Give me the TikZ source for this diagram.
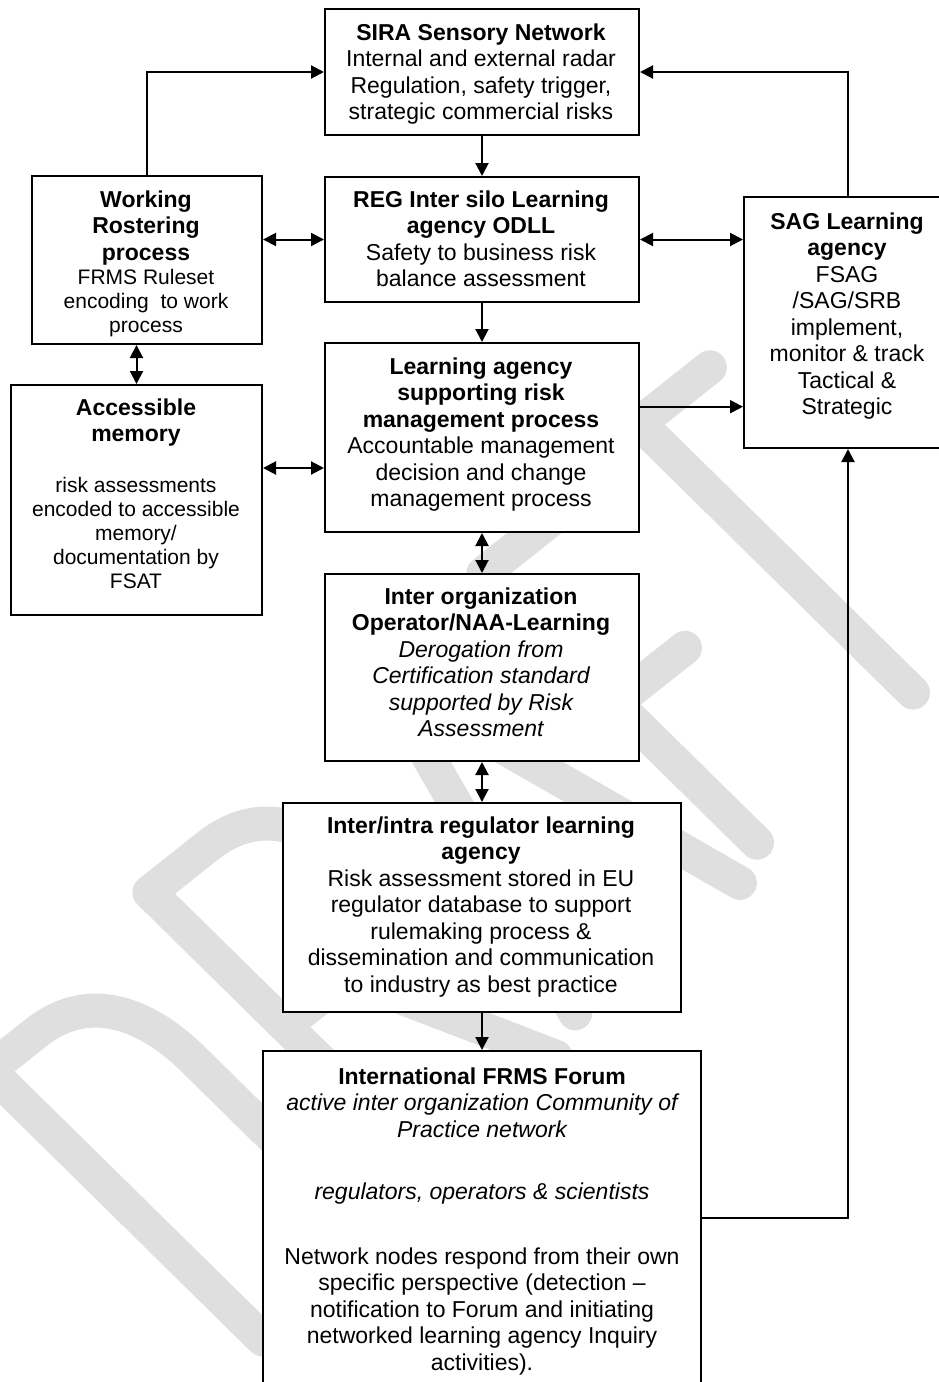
\documentclass[tikz,border=0pt]{standalone}
\usepackage{fontspec}
\setmainfont{Liberation Sans}
\usetikzlibrary{arrows.meta}
\definecolor{wmgray}{RGB}{223,223,223}
\newcommand\smallfnt{\fontsize{21}{24}\selectfont}
\begin{document}
\begin{tikzpicture}[x=1pt,y=-1pt,
  box/.style={draw=black, fill=white, line width=2pt, rectangle, inner sep=0pt, anchor=north west},
  txt/.style={anchor=north, inner sep=0pt, align=center, font=\fontsize{23}{26.5}\selectfont},
  arr/.style={line width=2pt, -{Triangle[length=13pt,width=13pt]}},
  darr/.style={line width=2pt, {Triangle[length=13pt,width=13pt]}-{Triangle[length=13pt,width=13pt]}},
  wm/.style={draw=wmgray, line width=34pt, line cap=round, line join=round}]
\useasboundingbox (0,0) rectangle (939,1382);
\clip (0,0) rectangle (939,1382);
% watermark DRAFT
\begin{scope}[shift={(-11,1070)}, x={(0.784pt,0.621pt)}, y={(0.7127pt,-0.7014pt)}]
  \draw[wm] (0,0) -- (60,0) .. controls (125,0) and (152,50) .. (152,120) -- (152,264) .. controls (152,334) and (125,384) .. (60,384) -- (0,384) -- cycle;
  \draw[wm] (241,344) -- (241,-40) -- (315,-40) .. controls (372,-40) and (400,-5) .. (400,52) .. controls (400,110) and (372,150) .. (315,150) -- (241,150);
  \draw[wm] (320,150) -- (410,344);
  \draw[wm] (455,322) -- (560,-62) -- (665,322);
  \draw[wm] (487,205) -- (633,205);
  \draw[wm] (816,-83) -- (706,-83) -- (706,301);
  \draw[wm] (706,102) -- (795,102);
  \draw[wm] (834,-104) -- (1014,-104);
  \draw[wm] (924,-104) -- (924,280);
\end{scope}
% boxes
\node[box, minimum width=314pt, minimum height=126pt] (sira) at (324,8) {};
\node[box, minimum width=314pt, minimum height=125pt] (reg) at (324,176) {};
\node[box, minimum width=230pt, minimum height=168pt] (work) at (31,175) {};
\node[box, minimum width=251pt, minimum height=230pt] (acc) at (10,384) {};
\node[box, minimum width=314pt, minimum height=189pt] (learn) at (324,342) {};
\node[box, minimum width=314pt, minimum height=187pt] (inter) at (324,573) {};
\node[box, minimum width=398pt, minimum height=209pt] (intra) at (282,802) {};
\node[box, minimum width=438pt, minimum height=350pt] (forum) at (262,1050) {};
\node[box, minimum width=208pt, minimum height=251pt] (sag) at (743,196) {};
% connectors
\draw[arr] (sira.south) -- (reg.north);
\draw[arr] (reg.south) -- (learn.north);
\draw[darr] (learn.south) -- (inter.north);
\draw[darr] (inter.south) -- (intra.north);
\draw[arr] (intra.south) -- (forum.north);
\draw[arr] (work.north) |- (sira.west);
\draw[arr] (sag.north) |- (sira.east);
\draw[darr] (reg.west) -- (reg.west -| work.east);
\draw[darr] (reg.east) -- (reg.east -| sag.west);
\draw[darr] (acc.north) -- (acc.north |- work.south);
\draw[darr] ([yshift=-30.5pt]learn.west) -- ([yshift=-30.5pt]learn.west -| acc.east);
\draw[arr] ([yshift=30.8pt]learn.east) -- ([yshift=30.8pt]learn.east -| sag.west);
\draw[arr] ([yshift=8pt]forum.east) -| (sag.south);
% texts
\node[txt] (sira-t) at (481,22) {\rule{0pt}{18pt}{\bfseries SIRA Sensory Network}\\Internal and external radar\\Regulation, safety trigger,\\strategic commercial risks};
\node[txt] (reg-t) at (481,189) {\rule{0pt}{18pt}{\bfseries REG Inter silo Learning}\\{\bfseries agency ODLL}\\Safety to business risk\\balance assessment};
\node[txt] (work-t) at (146,189) {\rule{0pt}{18pt}{\bfseries Working}\\{\bfseries Rostering}\\{\bfseries process}\\[-2.5pt]{\smallfnt FRMS Ruleset}\\[-2.5pt]{\smallfnt encoding\ \ to work}\\[-2.5pt]{\smallfnt process}};
\node[txt] (acc-t) at (136,397) {\rule{0pt}{18pt}{\bfseries Accessible}\\{\bfseries memory}\\[24pt]{\smallfnt risk assessments}\\[-2.5pt]{\smallfnt encoded to accessible}\\[-2.5pt]{\smallfnt memory/}\\[-2.5pt]{\smallfnt documentation by}\\[-2.5pt]{\smallfnt FSAT}};
\node[txt] (learn-t) at (481,356) {\rule{0pt}{18pt}{\bfseries Learning agency}\\{\bfseries supporting risk}\\{\bfseries management process}\\Accountable management\\decision and change\\management process};
\node[txt] (inter-t) at (481,586) {\rule{0pt}{18pt}{\bfseries Inter organization}\\{\bfseries Operator/NAA-Learning}\\{\itshape Derogation from}\\{\itshape Certification standard}\\{\itshape supported by Risk}\\{\itshape Assessment}};
\node[txt] (intra-t) at (481,815) {\rule{0pt}{18pt}{\bfseries Inter/intra regulator learning}\\{\bfseries agency}\\Risk assessment stored in EU\\regulator database to support\\rulemaking process \&\\dissemination and communication\\to industry as best practice};
\node[txt] (forum-t) at (482,1066) {\rule{0pt}{18pt}{\bfseries International FRMS Forum}\\{\itshape active inter organization Community of}\\{\itshape Practice network}\\[35.5pt]{\itshape regulators, operators \& scientists}\\[38.5pt]Network nodes respond from their own\\specific perspective (detection –\\notification to Forum and initiating\\networked learning agency Inquiry\\activities).};
\node[txt] (sag-t) at (847,211) {\rule{0pt}{18pt}{\bfseries SAG Learning}\\{\bfseries agency}\\FSAG\\/SAG/SRB\\implement,\\monitor \& track\\Tactical \&\\Strategic};
\end{tikzpicture}
\end{document}
